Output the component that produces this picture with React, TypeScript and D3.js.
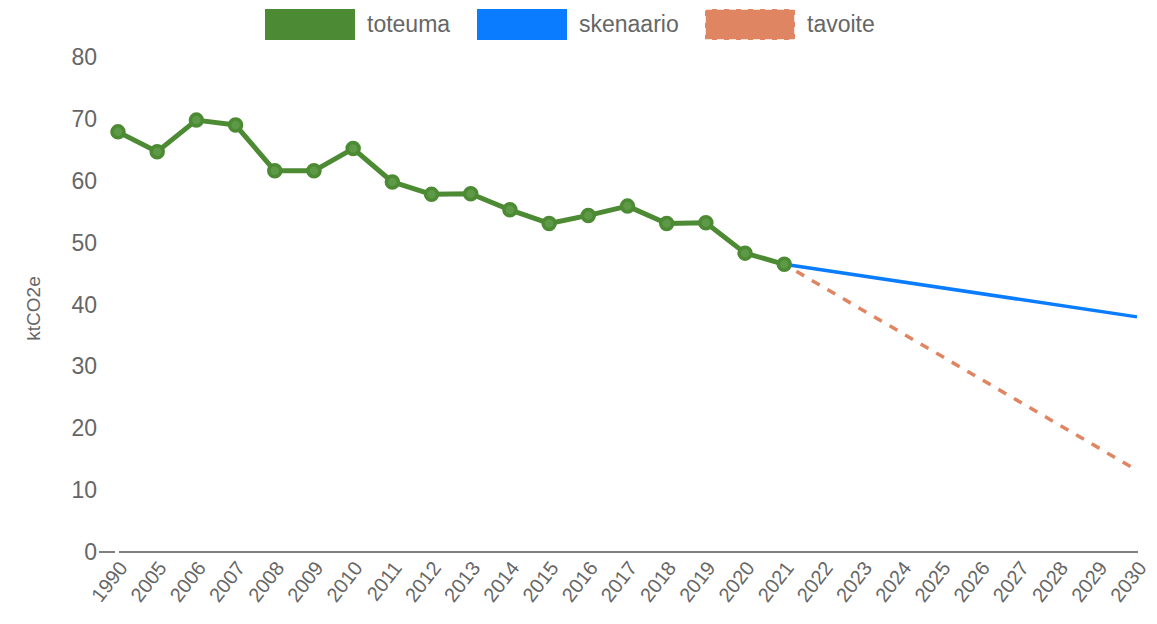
import { useEffect, useRef } from 'react';
import * as d3 from 'd3';

// Category labels on the x axis
const years = ['1990', '2005', '2006', '2007', '2008', '2009', '2010', '2011', '2012', '2013',
  '2014', '2015', '2016', '2017', '2018', '2019', '2020', '2021', '2022', '2023',
  '2024', '2025', '2026', '2027', '2028', '2029', '2030'];

// toteuma (actuals), 1990..2021
const toteumaYears = years.slice(0, 18);
const toteumaValues = [67.9, 64.7, 69.8, 69.0, 61.6, 61.6, 65.2, 59.8, 57.8, 57.9,
  55.3, 53.1, 54.4, 55.9, 53.1, 53.2, 48.3, 46.5];

// skenaario and tavoite: start and end points
const skenaarioYears = ['2021', '2030'];
const skenaarioValues = [46.5, 38.0];
const tavoiteYears = ['2021', '2030'];
const tavoiteValues = [46.5, 13.2];

const yTicks = [0, 10, 20, 30, 40, 50, 60, 70, 80];

const legendItems = [
  { label: 'toteuma', color: '#4c8a33', dashed: false },
  { label: 'skenaario', color: '#0a7cff', dashed: false },
  { label: 'tavoite', color: '#e08562', dashed: true },
];

const FONT = '"Liberation Sans", Arial, sans-serif';
const TEXT = '#666666';

export default function App() {
  const svgRef = useRef<SVGSVGElement>(null);

  useEffect(() => {
    if (!svgRef.current) return;
    const svg = d3.select(svgRef.current);
    svg.selectAll('*').remove();

    const width = 1157;
    const height = 624;
    const left = 118;
    const right = 1137;
    const top = 57;
    const bottom = 552;

    const x = d3.scalePoint<string>().domain(years).range([left, right]);
    const y = d3.scaleLinear().domain([0, 80]).range([bottom, top]);

    // Y tick labels
    svg.append('g')
      .selectAll('text')
      .data(yTicks)
      .join('text')
      .attr('x', 97)
      .attr('y', d => y(d))
      .attr('text-anchor', 'end')
      .attr('dominant-baseline', 'central')
      .style('fill', TEXT)
      .style('font-family', FONT)
      .style('font-size', '23px')
      .text(d => d);

    // Y title
    svg.append('text')
      .attr('transform', `translate(40, ${(top + bottom) / 2 + 4}) rotate(-90)`)
      .attr('text-anchor', 'middle')
      .style('fill', TEXT)
      .style('font-family', FONT)
      .style('font-size', '19px')
      .text('ktCO2e');

    // Axis line and zero tick
    svg.append('line')
      .attr('x1', 99).attr('x2', 115)
      .attr('y1', bottom).attr('y2', bottom)
      .attr('stroke', '#555').attr('stroke-width', 1.5);
    svg.append('line')
      .attr('x1', left + 1).attr('x2', right + 1)
      .attr('y1', bottom).attr('y2', bottom)
      .attr('stroke', '#555').attr('stroke-width', 1.5);

    // X tick labels
    svg.append('g')
      .selectAll('text')
      .data(years)
      .join('text')
      .attr('transform', d => `translate(${(x(d) ?? 0) + 5}, ${bottom + 12}) rotate(-52)`)
      .attr('text-anchor', 'end')
      .attr('dominant-baseline', 'central')
      .style('fill', TEXT)
      .style('font-family', FONT)
      .style('font-size', '20px')
      .text(d => d);

    const line = d3.line<[string, number]>()
      .x(d => x(d[0]) ?? 0)
      .y(d => y(d[1]));

    // tavoite
    svg.append('path')
      .datum(tavoiteYears.map((yr, i) => [yr, tavoiteValues[i]] as [string, number]))
      .attr('d', line)
      .attr('fill', 'none')
      .attr('stroke', legendItems[2].color)
      .attr('stroke-width', 3.5)
      .attr('stroke-dasharray', '9 9')
      .attr('stroke-dashoffset', -14);

    // skenaario
    svg.append('path')
      .datum(skenaarioYears.map((yr, i) => [yr, skenaarioValues[i]] as [string, number]))
      .attr('d', line)
      .attr('fill', 'none')
      .attr('stroke', legendItems[1].color)
      .attr('stroke-width', 3.5);

    // toteuma
    const tData = toteumaYears.map((yr, i) => [yr, toteumaValues[i]] as [string, number]);
    svg.append('path')
      .datum(tData)
      .attr('d', line)
      .attr('fill', 'none')
      .attr('stroke', legendItems[0].color)
      .attr('stroke-width', 5)
      .attr('stroke-linejoin', 'round');

    svg.append('g')
      .selectAll('circle')
      .data(tData)
      .join('circle')
      .attr('cx', d => x(d[0]) ?? 0)
      .attr('cy', d => y(d[1]))
      .attr('r', 6)
      .attr('fill', '#5e9947')
      .attr('stroke', legendItems[0].color)
      .attr('stroke-width', 3.5);

    // Legend
    const legendX = [265, 477, 705];
    legendItems.forEach((item, i) => {
      const g = svg.append('g').attr('transform', `translate(${legendX[i]}, 9)`);
      g.append('rect')
        .attr('width', 90)
        .attr('height', 31)
        .attr('fill', item.color)
        .attr('stroke', item.dashed ? '#fff' : 'none')
        .attr('stroke-width', item.dashed ? 1.5 : 0)
        .attr('stroke-dasharray', item.dashed ? '7 5' : null);
      g.append('text')
        .attr('x', 102)
        .attr('y', 15)
        .attr('dominant-baseline', 'central')
        .style('fill', TEXT)
        .style('font-family', FONT)
        .style('font-size', '23px')
        .text(item.label);
    });

    svg.attr('width', width).attr('height', height);
  }, []);

  return (
    <svg ref={svgRef} width={1157} height={624}
      style={{ position: 'absolute', left: 0, top: 0, background: '#fff' }} />
  );
}
